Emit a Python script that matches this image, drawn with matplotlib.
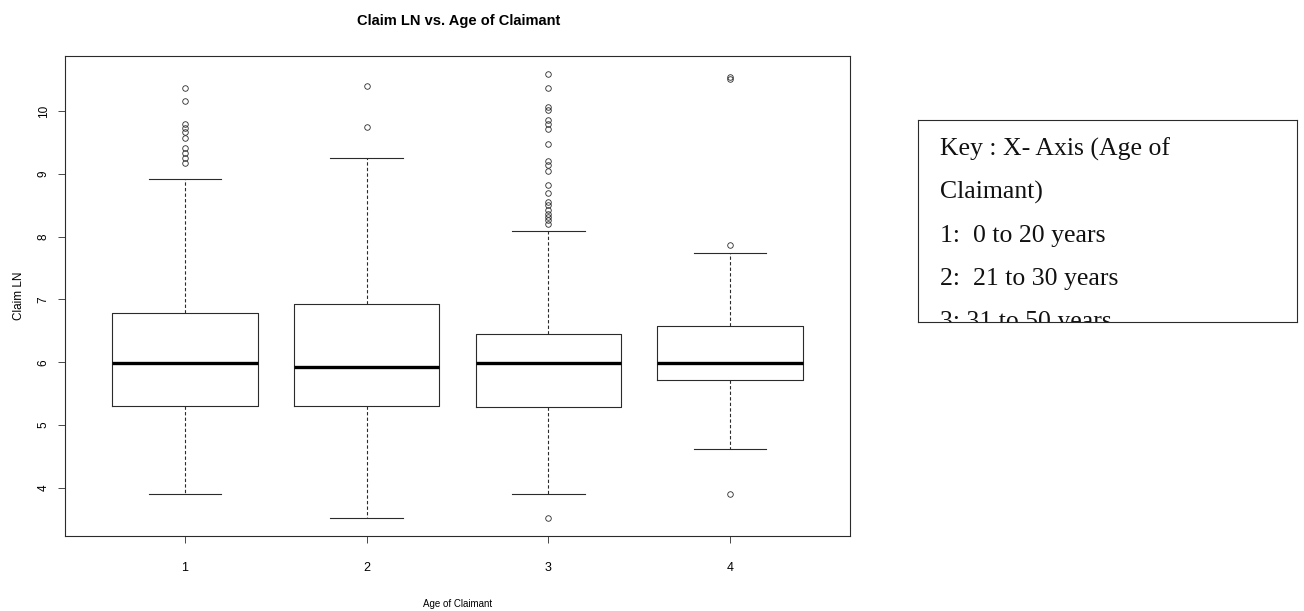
import matplotlib
matplotlib.use("Agg")
import matplotlib.pyplot as plt

# Box summary values (Claim LN by age group)
groups = [1, 2, 3, 4]
whislo = [3.90, 3.52, 3.90, 4.62]
q1 = [5.30, 5.30, 5.29, 5.72]
med = [5.99, 5.92, 5.99, 5.99]
q3 = [6.79, 6.93, 6.45, 6.57]
whishi = [8.92, 9.26, 8.09, 7.74]
fliers = [
    [10.37, 10.16, 9.80, 9.74, 9.67, 9.58, 9.42, 9.33, 9.26, 9.17],
    [10.40, 9.75],
    [10.60, 10.37, 10.07, 10.02, 9.86, 9.79, 9.72, 9.48, 9.21, 9.14, 9.05,
     8.83, 8.69, 8.55, 8.50, 8.42, 8.37, 8.31, 8.26, 8.21, 3.52],
    [10.55, 10.52, 7.87, 3.90],
]
key_lines = ["Key : X- Axis (Age of", "Claimant)", "1:  0 to 20 years",
             "2:  21 to 30 years", "3: 31 to 50 years"]

sans = ["Liberation Sans Narrow", "Liberation Sans", "DejaVu Sans"]
ink = "#2b2b2b"

fig = plt.figure(figsize=(13.04, 6.11), dpi=100)
ax = fig.add_axes([0.0498, 0.1227, 0.602, 0.7856])

stats = []
for i in range(len(groups)):
    stats.append(dict(whislo=whislo[i], q1=q1[i], med=med[i], q3=q3[i],
                      whishi=whishi[i], fliers=fliers[i], label=str(groups[i])))

ax.bxp(stats, positions=groups, widths=0.8,
       boxprops=dict(color=ink, linewidth=0.8),
       medianprops=dict(color="black", linewidth=2.4),
       whiskerprops=dict(color=ink, linewidth=0.8, linestyle=(0, (3, 2))),
       capprops=dict(color=ink, linewidth=0.8),
       flierprops=dict(marker="o", markersize=4, markerfacecolor="none",
                       markeredgecolor=ink, markeredgewidth=0.6))

ax.set_xlim(0.34, 4.66)
ax.set_ylim(3.23, 10.88)
ax.set_yticks([4, 5, 6, 7, 8, 9, 10])
ax.set_xticks(groups)
ax.set_xticklabels([str(g) for g in groups], fontsize=9, family=sans)
for lab in ax.get_yticklabels():
    lab.set_rotation(90)
    lab.set_va("center")
    lab.set_family(sans)
    lab.set_fontsize(8.5)
ax.tick_params(direction="out", length=5, width=0.6, color=ink)
ax.tick_params(axis="x", pad=14)
ax.tick_params(axis="y", pad=6)
for s in ax.spines.values():
    s.set_color(ink)
    s.set_linewidth(0.8)

ax.set_ylabel("Claim LN", fontsize=8.5, family=sans, labelpad=9)
ax.set_xlabel("Age of Claimant", fontsize=7, family=sans, labelpad=18)
fig.text(0.352, 0.965, "Claim LN vs. Age of Claimant", ha="center", va="center",
         fontsize=10.5, fontweight="bold", family=sans)

# key box on the right, last line cut off by the frame
kax = fig.add_axes([0.704, 0.473, 0.2906, 0.3306])
kax.set_xticks([])
kax.set_yticks([])
kax.set_xlim(0, 1)
kax.set_ylim(0, 1)
for s in kax.spines.values():
    s.set_color(ink)
    s.set_linewidth(0.8)
for j, line in enumerate(key_lines):
    kax.text(0.058, 0.822 - j * 0.213, line, fontsize=18.5, family="Liberation Serif",
             va="baseline", ha="left", color="#111111", clip_on=True,
             transform=kax.transAxes)

fig.savefig("out.png", dpi=100)
